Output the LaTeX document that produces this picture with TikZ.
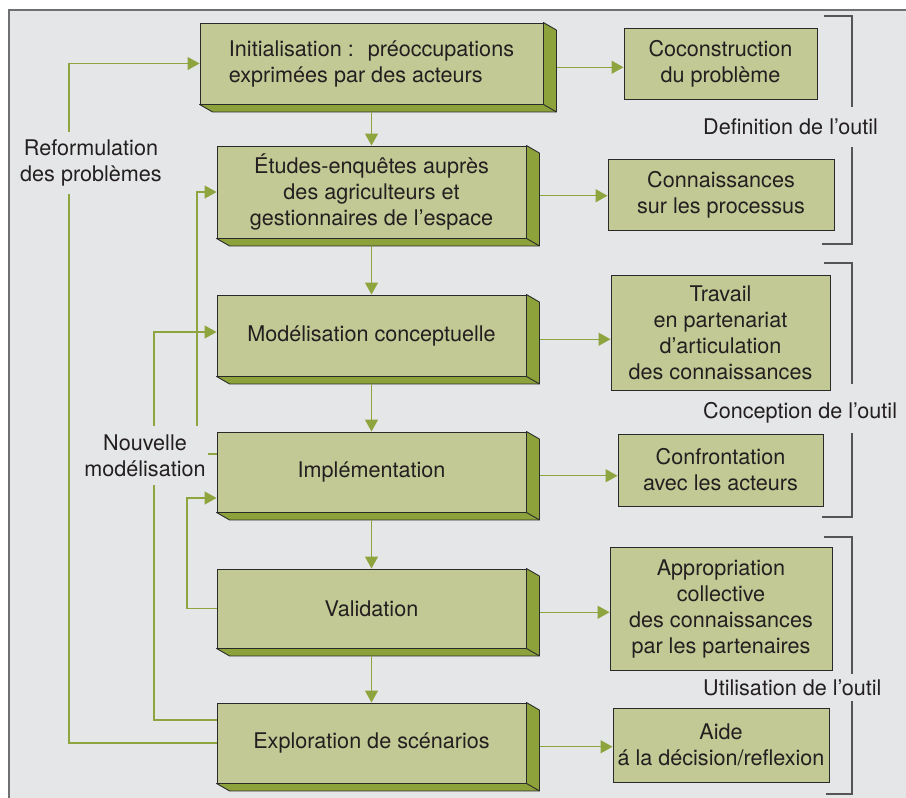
\documentclass[tikz,border=0pt]{standalone}
\usepackage{fontspec}
\setmainfont{TeX Gyre Heros}
\usetikzlibrary{arrows.meta,calc}
\definecolor{bg}{HTML}{E5E6E7}
\definecolor{boxf}{HTML}{C2C994}
\definecolor{facef}{HTML}{8DA23A}
\definecolor{lineg}{HTML}{8EA43E}
\definecolor{edge}{HTML}{2A2A2A}
\definecolor{txt}{HTML}{231F20}
\definecolor{brkc}{HTML}{555555}
\definecolor{framec}{HTML}{707070}
\begin{document}
\begin{tikzpicture}[x=1pt,y=-1pt,
  every node/.style={font=\fontsize{21.6}{26}\selectfont, text=txt},
  mainbox/.style={draw=edge, line width=0.9pt, fill=boxf, align=center, inner sep=0pt, minimum width=309},
  sidebox/.style={draw=edge, line width=0.9pt, fill=boxf, align=center, inner sep=0pt},
  conn/.style={draw=lineg, line width=1.3pt},
  arr/.style={conn, -{Triangle[length=12pt,width=13pt]}},
  lbl/.style={fill=bg, inner xsep=2pt, inner ysep=8pt, align=center},
  brk/.style={draw=brkc, line width=1.4pt},
  face/.style={fill=facef, draw=edge, line width=0.9pt, line join=round}
]
\useasboundingbox (0,0) rectangle (906,798);
\fill[white] (0,0) rectangle (906,798);
\fill[bg] (9,10) rectangle (906,798);
\draw[framec, line width=1.2pt] (9,798) -- (9,10) -- (906,10);

% main boxes
\node[mainbox, minimum width=343, minimum height=81, align=left] (b1) at (371.5,63.5) {Initialisation : \ préoccupations\\exprimées par des acteurs};
\node[mainbox, minimum height=92] (b2) at (371.5,192) {Études-enquêtes auprès\\des agriculteurs et\\gestionnaires de l’espace};
\node[mainbox, minimum height=81] (b3) at (371.5,335.5) {Modélisation conceptuelle};
\node[mainbox, minimum height=80] (b4) at (371.5,472) {Implémentation};
\node[mainbox, minimum height=79] (b5) at (371.5,608.5) {Validation};
\node[mainbox, minimum height=80] (b6) at (371.5,743) {Exploration de scénarios};

\foreach \n in {b1,b2,b3,b4,b5,b6}{
  \filldraw[face] (\n.north east) -- ($(\n.north east)+(13,7.5)$) -- ($(\n.south east)+(13,7.5)$) -- ($(\n.south west)+(13,7.5)$) -- (\n.south west) -- (\n.south east) -- cycle;
  \draw[edge, line width=0.9pt] (\n.south east) -- ++(13,7.5);
}

% side boxes
\node[sidebox, minimum width=193, minimum height=71] (r1) at (720.5,63.5) {Coconstruction\\du problème};
\node[sidebox, minimum width=226, minimum height=71] (r2) at (721,194.5) {Connaissances\\sur les processus};
\node[sidebox, minimum width=219, minimum height=115] (r3) at (720.5,332.5) {Travail\\en partenariat\\d’articulation\\des connaissances};
\node[sidebox, minimum width=205, minimum height=72] (r4) at (720.5,470) {Confrontation\\avec les acteurs};
\node[sidebox, minimum width=222, minimum height=123] (r5) at (721,608.5) {Appropriation\\collective\\des connaissances\\par les partenaires};
\node[sidebox, minimum width=216, minimum height=74] (r6) at (721,745) {Aide\\á la décision/reflexion};

% vertical arrows
\draw[arr] ($(b1.south)+(0,7.5)$) -- (b2.north);
\draw[arr] ($(b2.south)+(0,7.5)$) -- (b3.north);
\draw[arr] ($(b3.south)+(0,7.5)$) -- (b4.north);
\draw[arr] ($(b4.south)+(0,7.5)$) -- (b5.north);
\draw[arr] ($(b5.south)+(0,7.5)$) -- (b6.north);

% horizontal arrows to side boxes
\foreach \i in {1,...,6}{
  \coordinate (s\i) at ($(b\i.east)+(14,3.75)$);
  \draw[arr] (s\i) -- (s\i -| r\i.west);
}

% feedback loops
\coordinate (la) at (69,0);
\coordinate (lb) at (154,0);
\coordinate (lc) at (197,0);
\coordinate (ld) at (187,0);
\coordinate (b6a) at ([yshift=23pt]b6.west);
\coordinate (b3in) at ([yshift=3.5pt]b3.west);
\coordinate (b4out) at ([yshift=18pt]b4.west);
\coordinate (b4in) at ([yshift=-26pt]b4.west);

\draw[arr] (b6.west) -| (la |- b1.west) -- (b1.west);
\draw[arr] (b6a) -| (lb |- b3in) -- (b3in);
\draw[arr] (b4out) -| (lc |- b2.west) -- (b2.west);
\draw[arr] (b5.west) -| (ld |- b4in) -- (b4in);

\node[lbl] (reform) at (91,163) {Reformulation\\des problèmes};
\node[lbl] (nouv) at (145,455.5) {Nouvelle\\modélisation};

% brackets
\draw[brk] (824,16) -- (852,16) -- (852,107);
\draw[brk] (852,147) -- (852,244) -- (822,244);
\draw[brk] (824,263) -- (852,263) -- (852,384);
\draw[brk] (852,433) -- (852,517) -- (822,517);
\draw[brk] (824,537) -- (852,537) -- (852,674);
\draw[brk] (852,701) -- (852,794) -- (826,794);

\node[anchor=base west, inner sep=0pt] (def) at (703,134) {Definition de l’outil};
\node[anchor=base west, inner sep=0pt] (conc) at (703,418) {Conception de l’outil};
\node[anchor=base west, inner sep=0pt] (util) at (703,695) {Utilisation de l’outil};
\end{tikzpicture}
\end{document}
